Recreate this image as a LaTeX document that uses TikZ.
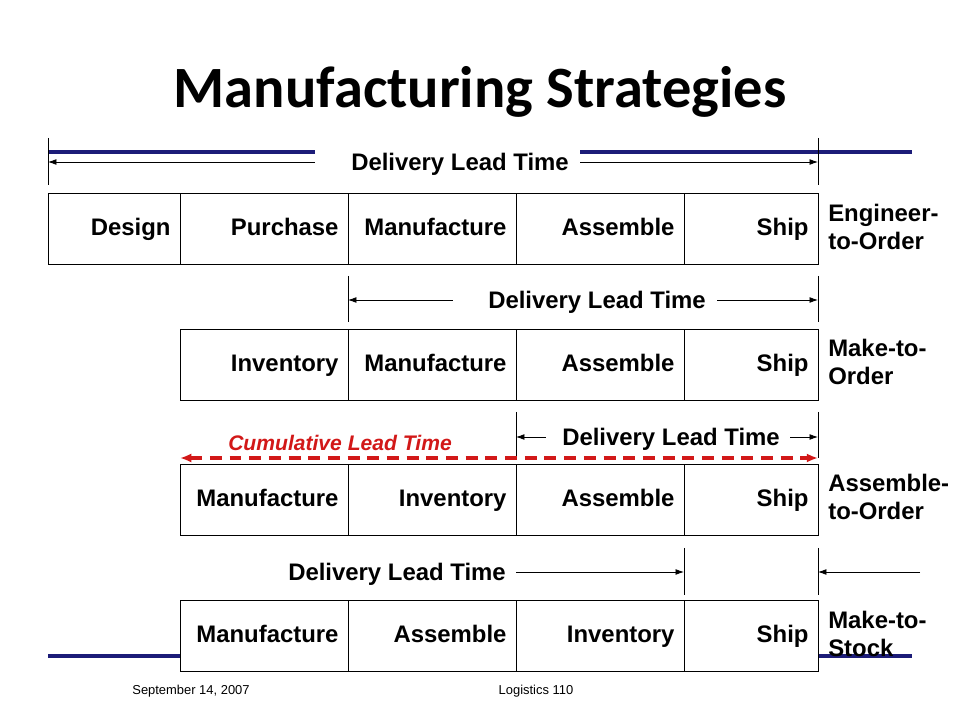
\documentclass[tikz,border=0pt]{standalone}
\usepackage{fontspec}
\setmainfont{Liberation Sans}
\newfontfamily\titlefont{Carlito}
\usetikzlibrary{arrows.meta}
\definecolor{slidenavy}{RGB}{28,28,120}
\definecolor{cumred}{RGB}{210,24,24}

\tikzset{
  cell/.style={draw, line width=0.7pt, anchor=north west, minimum height=1.775cm,
    inner xsep=0.25cm, inner ysep=0pt, text width=#1, align=right,
    text height=12.2pt, text depth=3.4pt,
    font=\bfseries\fontsize{17}{20}\selectfont},
  lbl/.style={inner sep=0pt, text depth=0pt, font=\bfseries\fontsize{17}{20}\selectfont},
  kind/.style={anchor=west, align=left, inner sep=0pt, font=\bfseries\fontsize{17}{20.5}\selectfont},
  tick/.style={line width=0.6pt},
  dl/.style={line width=0.6pt, -{Latex[length=6pt,width=4.2pt]}},
  cum/.style={cumred, line width=2.3pt, dash pattern=on 8.5pt off 5.5pt,
    {Latex[length=8pt,width=6.5pt]}-{Latex[length=8pt,width=6.5pt]}},
  navy/.style={slidenavy, line width=2.2pt},
  foot/.style={inner sep=0pt, font=\fontsize{9.2}{11}\selectfont},
}

\begin{document}
\begin{tikzpicture}[x=0.025cm, y=-0.025cm]
  \useasboundingbox (0,0) rectangle (960,720);
  \node (title) at (480,92) {\titlefont\bfseries\fontsize{41.6}{50}\selectfont Manufacturing Strategies};

  % slide rules
  \draw[navy] (48,152) -- (315,152) (580,152) -- (912,152);
  \draw[navy] (48,656) -- (180,656) (818,656) -- (912,656);

  % engineer-to-order
  \draw[tick] (48,138) -- (48,185) (818,138) -- (818,185);
  \coordinate (etoL) at (48,162); \coordinate (etoR) at (818,162);
  \node[lbl] (dlt1) at (460,162) {Delivery Lead Time};
  \draw[dl] ([xshift=-0.9cm]dlt1.west) -- (etoL);
  \draw[dl] ([xshift=0.275cm]dlt1.east) -- (etoR);
  \foreach \i/\x/\w/\t in {1/48/2.8cm/Design,2/180/3.7cm/Purchase,3/348/3.7cm/Manufacture,4/516/3.7cm/Assemble,5/684/2.85cm/Ship}
    \node[cell=\w] (eto\i) at (\x,193) {\t};
  \node[kind] (eto) at (828,227) {Engineer-\\to-Order};

  % make-to-order
  \draw[tick] (348,276) -- (348,322) (818,276) -- (818,322);
  \coordinate (mtoL) at (348,300); \coordinate (mtoR) at (818,300);
  \node[lbl] (dlt2) at (597,300) {Delivery Lead Time};
  \draw[dl] ([xshift=-0.875cm]dlt2.west) -- (mtoL);
  \draw[dl] ([xshift=0.275cm]dlt2.east) -- (mtoR);
  \foreach \i/\x/\w/\t in {1/180/3.7cm/Inventory,2/348/3.7cm/Manufacture,3/516/3.7cm/Assemble,4/684/2.85cm/Ship}
    \node[cell=\w] (mto\i) at (\x,329) {\t};
  \node[kind] (mto) at (828,362) {Make-to-\\Order};

  % assemble-to-order
  \draw[tick] (516,412) -- (516,458) (818,412) -- (818,458);
  \coordinate (atoL) at (516,437); \coordinate (atoR) at (818,437);
  \node[lbl] (dlt3) at (671,437) {Delivery Lead Time};
  \draw[dl] ([xshift=-0.4cm]dlt3.west) -- (atoL);
  \draw[dl] ([xshift=0.25cm]dlt3.east) -- (atoR);
  \coordinate (cumL) at (180,458); \coordinate (cumR) at (818,458);
  \draw[cum] (cumL) -- (cumR);
  \node[lbl, cumred, font=\bfseries\itshape\fontsize{15}{18}\selectfont] (cumtxt) at (340,443) {Cumulative Lead Time};
  \foreach \i/\x/\w/\t in {1/180/3.7cm/Manufacture,2/348/3.7cm/Inventory,3/516/3.7cm/Assemble,4/684/2.85cm/Ship}
    \node[cell=\w] (ato\i) at (\x,464) {\t};
  \node[kind] (ato) at (828,497) {Assemble-\\to-Order};

  % make-to-stock
  \draw[tick] (684,548) -- (684,595) (818,548) -- (818,595);
  \coordinate (mtsL) at (684,572); \coordinate (mtsR) at (818,572); \coordinate (mtsE) at (920,572);
  \node[lbl] (dlt4) at (397,572) {Delivery Lead Time};
  \draw[dl] ([xshift=0.25cm]dlt4.east) -- (mtsL);
  \draw[dl] (mtsE) -- (mtsR);
  \foreach \i/\x/\w/\t in {1/180/3.7cm/Manufacture,2/348/3.7cm/Assemble,3/516/3.7cm/Inventory,4/684/2.85cm/Ship}
    \node[cell=\w] (mts\i) at (\x,600) {\t};
  \node[kind] (mts) at (828,634) {Make-to-\\Stock};

  \node[foot] (date) at (191,691) {September 14, 2007};
  \node[foot] (course) at (536,691) {Logistics 110};
\end{tikzpicture}
\end{document}
